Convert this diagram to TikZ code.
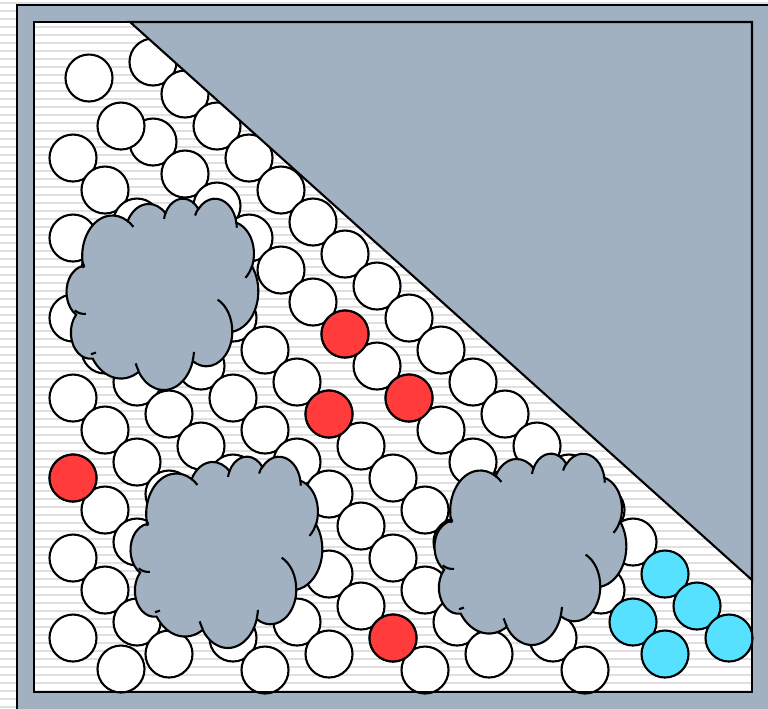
\documentclass[tikz,border=0pt]{standalone}
\usepackage{tikz}
\definecolor{slate}{RGB}{161,177,193}
\definecolor{ballred}{RGB}{255,59,59}
\definecolor{ballcyan}{RGB}{85,225,255}
\definecolor{stripegray}{RGB}{224,224,224}

\newcommand{\puffcloud}[1]{%
  \begin{scope}[shift={#1}, x=0.00447cm, y=-0.00442cm]
    \draw[wall] (39.00,143.70)
      arc[pufarc={67.53}{91.90}{-190.4875}{123.7805}]
      arc[pufarc={53.33}{72.67}{-144.1024}{89.9452}]
      arc[pufarc={43.65}{59.45}{-145.8079}{99.7230}]
      arc[pufarc={48.57}{65.95}{-130.9861}{117.2417}]
      arc[pufarc={53.33}{72.73}{-78.7089}{109.0269}]
      arc[pufarc={67.75}{92.20}{-46.2673}{130.2690}]
      arc[pufarc={57.85}{78.67}{0.6250}{114.0333}]
      arc[pufarc={67.52}{92.15}{22.4516}{115.1726}]
      arc[pufarc={77.20}{105.43}{66.2426}{70.1081}]
      arc[pufarc={43.60}{59.18}{-274.9421}{146.7356}]
      arc[pufarc={43.45}{59.45}{-246.8285}{152.5189}] -- cycle;
    \draw[line width=0.6pt]
      (46.93,261.77) arc[pufarc={43.45}{59.45}{86.7420}{26.4295}]
      (69.28,348.99) arc[pufarc={43.60}{59.18}{73.6105}{11.4475}]
      (164.78,390.90) arc[pufarc={67.52}{92.15}{137.6242}{14.0811}]
      (288.27,347.51) arc[pufarc={67.52}{92.15}{6.4533}{15.9984}]
      (341.29,229.54) arc[pufarc={57.85}{78.67}{-70.2924}{70.9174}]
      (417.98,153.54) arc[pufarc={53.33}{72.73}{30.3180}{27.7515}]
      (383.24,54.26) arc[pufarc={48.57}{65.95}{-13.7443}{14.8589}]
      (290.78,39.52) arc[pufarc={48.57}{65.95}{-149.1815}{18.1954}]
      (221.41,47.20) arc[pufarc={43.65}{59.45}{-163.4943}{17.6864}]
      (140.00,51.92) arc[pufarc={67.53}{91.90}{-66.7070}{12.3194}]
      (41.27,157.89) arc[pufarc={67.53}{91.90}{157.6544}{11.8582}];
  \end{scope}}

\begin{document}
\begin{tikzpicture}[
  x=0.01cm, y=-0.01cm,
  declare function={vis(\ang,\rw,\rh)=atan2(\rw*sin(\ang),\rh*cos(\ang));},
  pufarc/.style n args={4}{x radius=#1, y radius=#2,
    start angle={vis(#3,#1,#2)},
    end angle={vis(#3+#4,#1,#2)+360*round((vis(#3,#1,#2)+#4-vis(#3+#4,#1,#2))/360)}},
  stripe/.style={stripegray, line width=0.8pt},
  wall/.style={draw, fill=slate, line width=0.6pt},
  ball/.style={draw, fill=white, line width=0.6pt},
  hot/.style={ball, fill=ballred},
  cold/.style={ball, fill=ballcyan},
]
\useasboundingbox (0,0) rectangle (768,708);
\fill[white] (0,0) rectangle (768,708);
\foreach \y in {3,11,...,707}
  \draw[stripe] (0,\y) -- (768,\y);

\fill[slate, even odd rule] (17,5) rectangle (772,712) (34,22) rectangle (752,692);
\draw[line width=0.6pt] (772,5) -- (17,5) -- (17,712);

% diagonal rows of balls
\foreach \sx/\sy/\n in {153/62/15, 153/142/14, 73/158/16, 73/238/13,
                        73/318/11, 73/398/8, 73/478/6, 73/558/3, 73/638/0}
  \foreach \k in {0,...,\n}
    \draw[ball] ({\sx+32*\k},{\sy+32*\k}) circle (23.5);
\foreach \x/\y in {89/78, 121/126, 121/669}
  \draw[ball] (\x,\y) circle (23.5);
\foreach \x/\y in {345/334, 409/398, 329/414, 73/478, 393/638}
  \draw[hot] (\x,\y) circle (23.5);
\foreach \x/\y in {665/574, 697/606, 729/638, 633/622, 665/654}
  \draw[cold] (\x,\y) circle (23.5);

\draw[wall] (130,22) -- (752,22) -- (752,580) -- cycle;

\puffcloud{(65,198)}
\puffcloud{(129,456)}
\puffcloud{(433,453)}

\draw[line width=0.6pt] (34,22) rectangle (752,692);
\end{tikzpicture}
\end{document}
